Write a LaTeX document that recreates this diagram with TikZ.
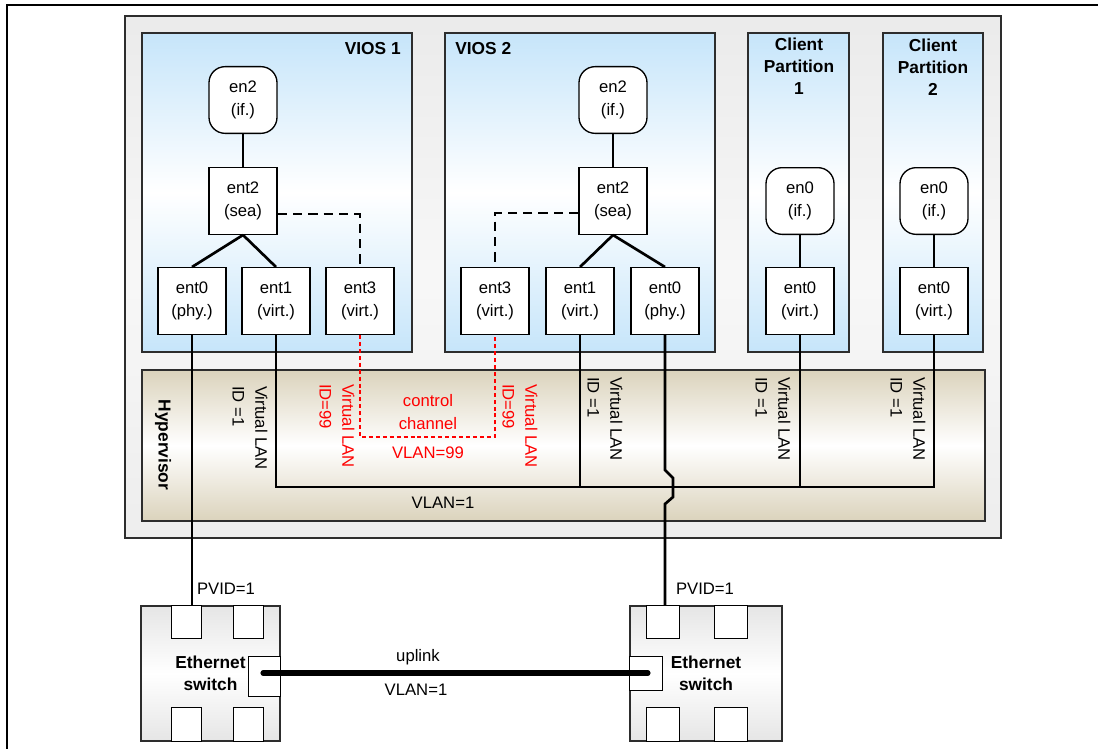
\documentclass[tikz,border=0pt]{standalone}
\usepackage{fontspec}
\setmainfont{Liberation Sans}
\usetikzlibrary{calc}
\definecolor{viosblue}{RGB}{198,229,250}
\definecolor{hvtan}{RGB}{219,211,188}
\definecolor{boxline}{RGB}{45,45,45}
\tikzset{
  txt/.style={font=\fontsize{12.5}{17}\selectfont, align=center, inner sep=0pt},
  bold/.style={font=\fontsize{13}{16.5}\selectfont\bfseries, align=center, inner sep=0pt},
  dev/.style={txt, draw=black, fill=white, line width=1pt, minimum width=51pt, minimum height=50pt},
  ifdev/.style={dev, rounded corners=12pt},
  lpar/.style={draw=boxline, line width=1.1pt, top color=viosblue, bottom color=viosblue, middle color=white},
  server/.style={draw=boxline, line width=1.5pt, top color=black!8, bottom color=black!7, middle color=black!3},
  hyper/.style={draw=boxline, line width=1.1pt, top color=hvtan, bottom color=hvtan, middle color=white},
  switchbox/.style={bold, draw=boxline, line width=1.1pt, top color=black!10, bottom color=black!10, middle color=white},
  swport/.style={draw=black, fill=white, line width=1pt},
  link/.style={line width=2pt},
  sealink/.style={line width=1pt, dash pattern=on 7pt off 4.5pt},
  ctrl/.style={red, line width=2pt, dash pattern=on 3pt off 2.2pt},
  vlabel/.style={txt, align=left, rotate=-90},
}
\begin{document}
\begin{tikzpicture}[x=0.75pt, y=-0.75pt]
	%%%%% START %%%%%
	\useasboundingbox (0,0) rectangle (1098,749);
	\draw[line width=0.8pt] (1098,5) -- (7,5) -- (7,749);
	
	% managed system and partitions
	\draw[server] (125,16) rectangle (1001,538);
	\draw[lpar] (142,33) rectangle (412,352);
	\draw[lpar] (445,33) rectangle (715,352);
	\draw[lpar] (748,33) rectangle (849,352);
	\draw[lpar] (883,33) rectangle (983,352);
	\draw[hyper] (142,370) rectangle (985,521);
	
	\node[bold, anchor=east] (v1title) at (401,49) {VIOS 1};
	\node[bold, anchor=west] (v2title) at (455,49) {VIOS 2};
	\node[bold] (c1title) at (799,66) {Client\\Partition\\1};
	\node[bold] (c2title) at (933,67) {Client\\Partition\\2};
	\node[bold, rotate=-90] (hvtitle) at (163,445) {Hypervisor};
	
	% VIOS 1
	\node[ifdev] (v1en2) at (243,100) {en2\\(if.)};
	\node[dev] (v1ent2) at (243,201) {ent2\\(sea)};
	\node[dev] (v1ent0) at (192,301) {ent0\\(phy.)};
	\node[dev] (v1ent1) at (276,301) {ent1\\(virt.)};
	\node[dev] (v1ent3) at (360,301) {ent3\\(virt.)};
	
	% VIOS 2
	\node[ifdev] (v2en2) at (613,100) {en2\\(if.)};
	\node[dev] (v2ent2) at (613,201) {ent2\\(sea)};
	\node[dev] (v2ent3) at (495,301) {ent3\\(virt.)};
	\node[dev] (v2ent1) at (580,301) {ent1\\(virt.)};
	\node[dev] (v2ent0) at (665,301) {ent0\\(phy.)};
	
	% clients
	\node[ifdev] (c1en0) at (800,201) {en0\\(if.)};
	\node[dev] (c1ent0) at (800,301) {ent0\\(virt.)};
	\node[ifdev] (c2en0) at (934,201) {en0\\(if.)};
	\node[dev] (c2ent0) at (934,301) {ent0\\(virt.)};
	
	\draw[link] (v1en2) -- (v1ent2);
	\draw[link] (v1ent2.south) -- (v1ent0.north);
	\draw[link] (v1ent2.south) -- (v1ent1.north);
	\draw[sealink] ($(v1ent2.east)+(0,13)$) -| (v1ent3.north);
	
	\draw[link] (v2en2) -- (v2ent2);
	\draw[link] (v2ent2.south) -- (v2ent1.north);
	\draw[link] (v2ent2.south) -- (v2ent0.north);
	\draw[sealink] ($(v2ent2.west)+(0,12)$) -| (v2ent3.north);
	
	\draw[link] (c1en0) -- (c1ent0);
	\draw[link] (c2en0) -- (c2ent0);
	
	% VLAN=1 bus
	\coordinate (bus) at (0,487);
	\draw[link] (v1ent1.south) |- (c2ent0.south |- bus) -- (c2ent0.south);
	\draw[link] (v2ent1.south) -- (v2ent1.south |- bus);
	\draw[link] (c1ent0.south) -- (c1ent0.south |- bus);
	\node[txt] (vlan1) at (443,503) {VLAN=1};
	
	% control channel
	\draw[ctrl] (v1ent3.south) -- ++(0,102) -| (v2ent3.south);
	\node[txt, red] (ctrltxt) at (428,412) {control\\channel};
	\node[txt, red] (vlan99) at (428,453) {VLAN=99};
	
	\node[vlabel] (lbl1) at (250,428) {Virtual LAN\\ID =1};
	\node[vlabel, red] (lbl2) at (337,426) {Virtual LAN\\ID=99};
	\node[vlabel, red] (lbl3) at (520,426) {Virtual LAN\\ID=99};
	\node[vlabel] (lbl4) at (605,419) {Virtual LAN\\ID =1};
	\node[vlabel] (lbl5) at (773,419) {Virtual LAN\\ID =1};
	\node[vlabel] (lbl6) at (908,419) {Virtual LAN\\ID =1};
	
	% switches
	\node[switchbox, minimum width=104pt, minimum height=101pt] (sw1) at (210.5,673.5) {Ethernet\\switch};
	\node[switchbox, minimum width=114pt, minimum height=101pt] (sw2) at (706,673.5) {Ethernet\\switch};
	
	\draw[swport] ($(sw1.north west)+(31,0)$) rectangle ++(30,33);
	\draw[swport] ($(sw1.north west)+(93,0)$) rectangle ++(30,33);
	\draw[swport] ($(sw1.south west)+(31,0)$) rectangle ++(30,-34);
	\draw[swport] ($(sw1.south west)+(93,0)$) rectangle ++(30,-34);
	\draw[swport] ($(sw1.north east)+(0,51)$) rectangle ++(-32,40);
	
	\draw[swport] ($(sw2.north west)+(17,0)$) rectangle ++(33,33);
	\draw[swport] ($(sw2.north west)+(85,0)$) rectangle ++(33,33);
	\draw[swport] ($(sw2.south west)+(17,0)$) rectangle ++(33,-34);
	\draw[swport] ($(sw2.south west)+(85,0)$) rectangle ++(33,-34);
	\draw[swport] ($(sw2.north west)+(0,51)$) rectangle ++(33,34);
	
	\draw[link] (v1ent0.south) -- (v1ent0.south |- sw1.north);
	\draw[link] (v2ent0.south) -- ++(0,135) -- ++(8,8) -- ++(0,19) -- ++(-8,7) -- (v2ent0.south |- sw2.north);
	\node[txt] (pvid1) at (226,589) {PVID=1};
	\node[txt] (pvid2) at (705,589) {PVID=1};
	
	\coordinate (up1) at (263,673);
	\coordinate (up2) at (648,673);
	\draw[line width=3.8pt, line cap=round] (up1) -- (up2);
	\node[txt] (uplink) at (418,657) {uplink};
	\node[txt] (uplinkvlan) at (416,690) {VLAN=1};
	%%%%% END %%%%%
\end{tikzpicture}
\end{document}
